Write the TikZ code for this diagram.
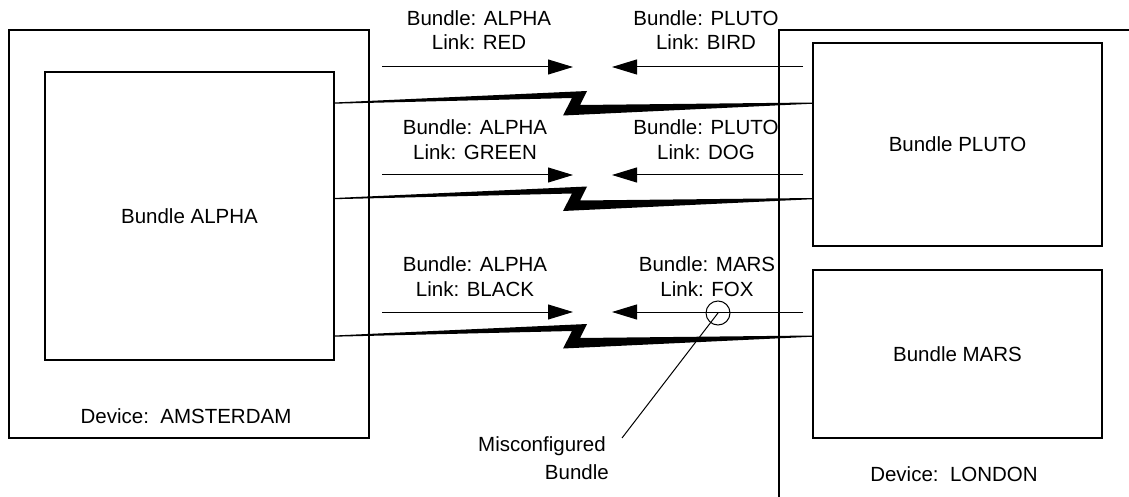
\documentclass[tikz,border=0pt]{standalone}
\usepackage{fontspec}
\setmainfont{Liberation Sans}
\usetikzlibrary{arrows.meta}
\begin{document}
\begin{tikzpicture}[x=1pt,y=-1pt,
  every node/.style={font=\fontsize{20.5}{24.8}\selectfont},
  box/.style={draw, line width=1.1pt, inner sep=0pt},
  lbl/.style={align=center, anchor=north, inner sep=0pt},
  flow/.style={line width=1pt, -{Triangle[length=25pt,width=15pt]}},
  bolt/.style={fill=black}]
\useasboundingbox (0,0) rectangle (1129,497);
% devices
\node[box, minimum width=360pt, minimum height=408pt] (ams) at (189,234) {};
\coordinate (lonb) at (779,497);
\coordinate (lonc) at (779,30);
\coordinate (lonr) at (1129,30);
\draw[line width=1.1pt] (lonb) -- (lonc) -- (lonr);
% bundles
\node[box, minimum width=289pt, minimum height=288pt] (alpha) at (189.5,216) {Bundle ALPHA};
\node[box, minimum width=289pt, minimum height=203pt] (pluto) at (957.5,144.5) {Bundle PLUTO};
\node[box, minimum width=289pt, minimum height=168pt] (mars) at (957.5,354) {Bundle MARS};
\node (amstxt) at (186,416.5) {Device:\ \ AMSTERDAM};
\node (lontxt) at (954,474.5) {Device:\ \ LONDON};
% links (lightning)
\foreach \s in {0,95.5,233}{
  \fill[bolt, shift={(0,\s)}] (334,102.5) -- (587,91) -- (580,105) -- (813,102.5)
     -- (813,103.7) -- (563,115.5) -- (572,98) -- (334,103.7) -- cycle;
}
% arrows
\foreach \y/\n in {67/1,175/2,312/3}{
  \coordinate (ra\n) at (382,\y);
  \coordinate (rt\n) at (573,\y);
  \coordinate (la\n) at (803,\y);
  \coordinate (lt\n) at (612,\y);
  \draw[flow] (ra\n) -- (rt\n);
  \draw[flow] (la\n) -- (lt\n);
}
% labels
\node[lbl] (lab1a) at (479,10) {Bundle: ALPHA\\Link: RED};
\node[lbl] (lab1b) at (706,10) {Bundle: PLUTO\\Link: BIRD};
\node[lbl] (lab2a) at (475,119.3) {Bundle: ALPHA\\Link: GREEN};
\node[lbl] (lab2b) at (706,119.3) {Bundle: PLUTO\\Link: DOG};
\node[lbl] (lab3a) at (475,256.7) {Bundle: ALPHA\\Link: BLACK};
\node[lbl] (lab3b) at (707,256.7) {Bundle: MARS\\Link: FOX};
% misconfiguration callout
\node[draw, circle, minimum size=24pt, inner sep=0pt, line width=1pt] (fault) at (718,313) {};
\coordinate (pt) at (622,438);
\draw[line width=1pt] (fault.center) -- (pt);
\node[anchor=base east, inner sep=0pt] (mis1) at (606,451) {Misconfigured};
\node[anchor=base east, inner sep=0pt] (mis2) at (609,479.8) {Bundle};
\end{tikzpicture}
\end{document}
